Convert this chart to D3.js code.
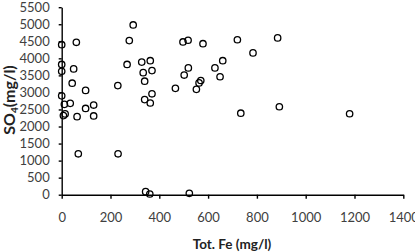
<!DOCTYPE html>
<html><head><meta charset="utf-8">
<script src="https://cdn.jsdelivr.net/npm/d3@7"></script>
<style>body{margin:0;background:#fff}</style></head>
<body><svg id="c" width="415" height="252"></svg>
<script>
const feValues = [0,60,0,0,49,43,98,230,0,35,11,131,98,14,7,63,131,68,231,
  277,293,268,328,363,334,370,340,370,340,363,466,497,518,579,519,502,570,563,552,
  628,660,649,720,784,885,734,892,1180,344,361,523];
const so4Values = [4400,4470,3820,3620,3690,3270,3060,3200,2900,2680,2650,2630,2530,2370,2320,2290,2310,1200,1200,
  4520,4980,3820,3890,3930,3580,3640,3330,2960,2790,2690,3120,4480,4530,4430,3720,3510,3350,3280,3090,
  3720,3930,3460,4545,4160,4600,2390,2580,2375,90,20,40];
const xTicks = [0,200,400,600,800,1000,1200,1400];
const yTicks = [0,500,1000,1500,2000,2500,3000,3500,4000,4500,5000,5500];

const svg = d3.select("#c");
const x = d3.scaleLinear().domain([0,1400]).range([61.7,403.3]);
const y = d3.scaleLinear().domain([0,5500]).range([194.7,7.2]);
const font = "Lato, 'Open Sans', sans-serif";

const gx = svg.append("g").attr("transform","translate(0,194.7)")
  .call(d3.axisBottom(x).tickValues(xTicks).tickFormat(d3.format("d")).tickSize(4).tickSizeOuter(0).tickPadding(14));
const gy = svg.append("g").attr("transform","translate(61.7,0)")
  .call(d3.axisLeft(y).tickValues(yTicks).tickFormat(d3.format("d")).tickSize(3).tickSizeOuter(0).tickPadding(9));
[gx,gy].forEach(g=>{
  g.selectAll("path,line").attr("stroke","#000").attr("stroke-width",1.4);
  g.selectAll("text").attr("font-family",font).attr("font-size","13px").attr("fill","#404040");
});

svg.append("g").selectAll("circle").data(feValues.map((v,i)=>[v,so4Values[i]])).join("circle")
  .attr("cx",d=>x(d[0])).attr("cy",d=>y(d[1])).attr("r",3.2)
  .attr("fill","none").attr("stroke","#000").attr("stroke-width",1.3);

svg.append("text").attr("x",232).attr("y",249).attr("text-anchor","middle")
  .attr("font-family",font).attr("font-weight","bold").attr("font-size","13.5px").attr("fill","#222")
  .text("Tot. Fe (mg/l)");
const yl = svg.append("text").attr("transform","translate(15,100) rotate(-90)").attr("text-anchor","middle")
  .attr("font-family",font).attr("font-weight","bold").attr("font-size","16px").attr("fill","#222");
yl.append("tspan").text("SO");
yl.append("tspan").attr("font-size","10px").attr("dy","3").text("4");
yl.append("tspan").attr("dy","-3").text("(mg/l)");
</script></body></html>
